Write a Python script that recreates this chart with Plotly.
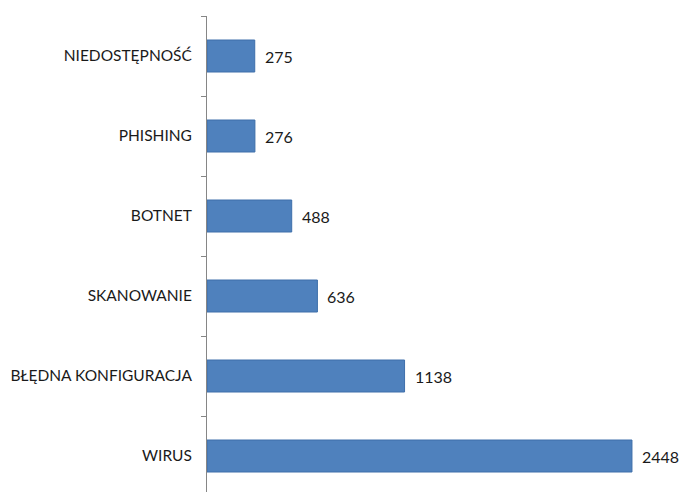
import plotly.graph_objects as go

# Incident categories and counts
categories = ["NIEDOSTĘPNOŚĆ", "PHISHING", "BOTNET", "SKANOWANIE",
              "BŁĘDNA KONFIGURACJA", "WIRUS"]
counts = [275, 276, 488, 636, 1138, 2448]

fig = go.Figure()
fig.add_trace(go.Bar(
    x=counts,
    y=categories,
    orientation="h",
    marker=dict(color="#4F81BD", line=dict(color="#3E6FAA", width=1)),
    hoverinfo="skip",
))

# Value labels placed just right of each bar end
for c, v in zip(categories, counts):
    fig.add_annotation(
        x=v, y=c, text=str(v), showarrow=False,
        xanchor="left", yanchor="middle", xshift=8,
        font=dict(family="Lato", size=16, color="#1a1a1a"),
    )

fig.update_layout(
    width=683, height=492,
    margin=dict(l=207, r=0, t=16, b=0),
    paper_bgcolor="white", plot_bgcolor="white",
    bargap=0.6,
    showlegend=False,
    font=dict(family="Lato", size=15, color="#1a1a1a"),
)
fig.update_xaxes(
    range=[0, 2742], visible=False, showgrid=False, zeroline=False,
)
fig.update_yaxes(
    type="category",
    categoryorder="array", categoryarray=categories,
    range=[5.45, -0.5],
    showline=True, linecolor="#868686", linewidth=1,
    ticks="outside", tickson="boundaries", ticklen=5, tickcolor="#868686",
    ticklabelstandoff=11,
    showgrid=False, zeroline=False,
    tickfont=dict(family="Lato", size=15.5, color="#1a1a1a"),
)

fig.write_html("out.html")
